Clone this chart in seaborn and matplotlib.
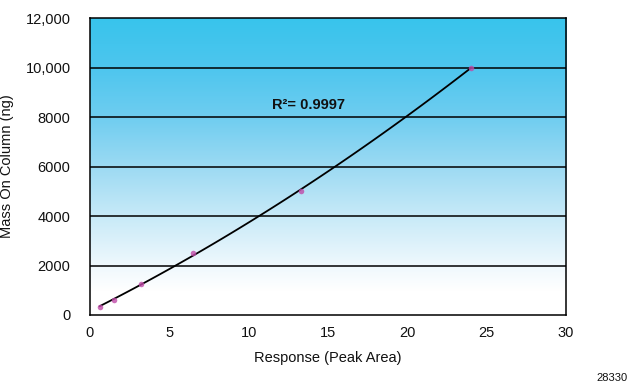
import numpy as np
import seaborn as sns
import matplotlib.pyplot as plt
from matplotlib.colors import LinearSegmentedColormap
from matplotlib.ticker import FuncFormatter

# Calibration data
response = [0.6, 1.5, 3.2, 6.5, 13.3, 24.0]
mass = [312.5, 625, 1250, 2500, 5000, 10000]
r2_label = 'R\u00b2= 0.9997'

sns.set_style('white')
plt.rcParams['font.family'] = ['Liberation Sans', 'DejaVu Sans']
plt.rcParams['text.color'] = '#111111'
plt.rcParams['axes.labelcolor'] = '#111111'
plt.rcParams['xtick.color'] = '#111111'
plt.rcParams['ytick.color'] = '#111111'

fig = plt.figure(figsize=(6.31, 3.86), dpi=100)
ax = fig.add_axes([0.1426, 0.184, 0.7544, 0.769])

# gradient background, cyan at top fading to white
cmap = LinearSegmentedColormap.from_list('bg', [
    (0.0, '#ffffff'), (0.08, '#ffffff'), (0.17, '#eef8fd'), (0.33, '#c8eaf8'),
    (0.5, '#9cdaf3'), (0.67, '#6ecdf0'), (0.83, '#4ec6ee'), (1.0, '#38c4ec')])
grad = np.linspace(0, 1, 256).reshape(-1, 1)
ax.imshow(grad, aspect='auto', cmap=cmap, origin='lower',
          extent=[0, 30, 0, 12000], zorder=0)

for yv in range(2000, 12000, 2000):
    ax.axhline(yv, color='black', lw=1.1, zorder=1)

sns.regplot(x=response, y=mass, order=2, ci=None, ax=ax, truncate=True,
            scatter_kws=dict(color='#c04aa8', s=16, marker='s', zorder=3, linewidths=0),
            line_kws=dict(color='black', lw=1.3, zorder=2))

ax.set_xlim(0, 30)
ax.set_ylim(0, 12000)
ax.set_xticks(range(0, 31, 5))
ax.set_yticks(range(0, 12001, 2000))
ax.yaxis.set_major_formatter(FuncFormatter(
    lambda v, p: f'{int(v):,}' if v >= 10000 else f'{int(v)}'))
ax.tick_params(axis='x', direction='out', length=5, width=1, labelsize=10.5, pad=3)
ax.tick_params(axis='y', length=0, labelsize=10.5, pad=14)
for s in ax.spines.values():
    s.set_color('black')
    s.set_linewidth(1.1)

ax.set_xlabel('Response (Peak Area)', fontsize=10.5, labelpad=8)
ax.set_ylabel('Mass On Column (ng)', fontsize=10.5, labelpad=8)

ax.text(11.5, 8480, r2_label, fontsize=10.5, fontweight='bold', va='center')
fig.text(0.994, 0.008, '28330', fontsize=8, ha='right', va='bottom')

fig.savefig('out.png', dpi=100)
